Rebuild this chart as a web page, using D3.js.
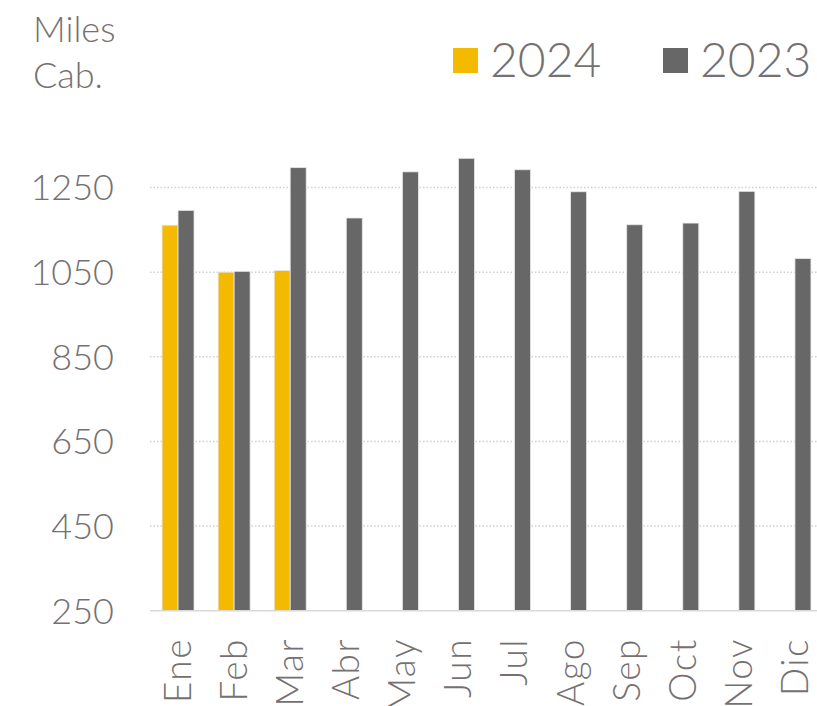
<!DOCTYPE html>
<html>
<head>
<meta charset="utf-8">
<script src="https://cdn.jsdelivr.net/npm/d3@7"></script>
<style>
  body { margin: 0; background: #fff; }
  text { font-family: Lato, "Open Sans", sans-serif; font-weight: 300; fill: #767171; }
</style>
</head>
<body>
<div id="chart"></div>
<script>
const months = ['Ene', 'Feb', 'Mar', 'Abr', 'May', 'Jun', 'Jul', 'Ago', 'Sep', 'Oct', 'Nov', 'Dic'];
const series = ['2024', '2023'];
const values2024 = [1161, 1050, 1054, null, null, null, null, null, null, null, null, null];
const values2023 = [1196, 1052, 1297, 1178, 1287, 1319, 1292, 1240, 1162, 1166, 1241, 1082];
const yTicks = [250, 450, 650, 850, 1050, 1250];
const colors = { '2024': '#F4BA00', '2023': '#676767' };

const width = 817, height = 706;

const svg = d3.select('#chart').append('svg')
    .attr('width', width)
    .attr('height', height);

const x = d3.scaleBand()
    .domain(months)
    .range([150, 823])
    .paddingInner(0.43)
    .paddingOuter(0.215);

const x1 = d3.scaleBand()
    .domain(series)
    .range([0, x.bandwidth()]);

const y = d3.scaleLinear()
    .domain([250, 1450])
    .range([610.7, 102.9]);

// Línies de la graella
svg.append('g')
    .selectAll('line')
    .data(yTicks.slice(1))
    .join('line')
    .attr('x1', 150)
    .attr('x2', 817)
    .attr('y1', d => y(d))
    .attr('y2', d => y(d))
    .attr('stroke', '#d0d0d0')
    .attr('stroke-width', 1.5)
    .attr('stroke-dasharray', '1.5,2');

// Barres
const rows = months.map((m, i) => ({ month: m, '2024': values2024[i], '2023': values2023[i] }));

const groups = svg.append('g')
    .selectAll('g')
    .data(rows)
    .join('g')
    .attr('transform', d => `translate(${x(d.month)},0)`);

groups.selectAll('rect')
    .data(d => series.map(s => ({ s, v: d[s] })).filter(e => e.v != null))
    .join('rect')
    .attr('x', d => x1(d.s))
    .attr('width', x1.bandwidth())
    .attr('y', d => y(d.v))
    .attr('height', d => y(250) - y(d.v))
    .attr('fill', d => colors[d.s])
    .attr('stroke', '#e6e6e6')
    .attr('stroke-width', 0.8);

// Eix X
svg.append('line')
    .attr('x1', 150)
    .attr('x2', 817)
    .attr('y1', y(250))
    .attr('y2', y(250))
    .attr('stroke', '#d9d9d9')
    .attr('stroke-width', 1.5);

svg.append('g')
    .selectAll('text')
    .data(months)
    .join('text')
    .attr('transform', d => `translate(${x(d) + x.bandwidth() / 2},638) rotate(-90)`)
    .attr('text-anchor', 'end')
    .attr('dy', '0.35em')
    .attr('font-size', '37px')
    .attr('letter-spacing', '1.5px')
    .text(d => d);

// Eix Y
svg.append('g')
    .selectAll('text')
    .data(yTicks)
    .join('text')
    .attr('x', 114)
    .attr('y', d => y(d))
    .attr('dy', '0.36em')
    .attr('text-anchor', 'end')
    .attr('font-size', '36px')
    .text(d => d);

// Unitats
svg.append('text')
    .attr('x', 33)
    .attr('y', 42)
    .attr('font-size', '36px')
    .text('Miles');

svg.append('text')
    .attr('x', 33)
    .attr('y', 88)
    .attr('font-size', '36px')
    .text('Cab.');

// Llegenda
const legendPos = { '2024': 453, '2023': 663 };
const legend = svg.append('g')
    .selectAll('g')
    .data(series)
    .join('g')
    .attr('transform', d => `translate(${legendPos[d]},0)`);

legend.append('rect')
    .attr('x', 0)
    .attr('y', 48)
    .attr('width', 25)
    .attr('height', 25)
    .attr('fill', d => colors[d]);

legend.append('text')
    .attr('x', 37)
    .attr('y', 77)
    .attr('font-size', '48px')
    .text(d => d);
</script>
</body>
</html>
